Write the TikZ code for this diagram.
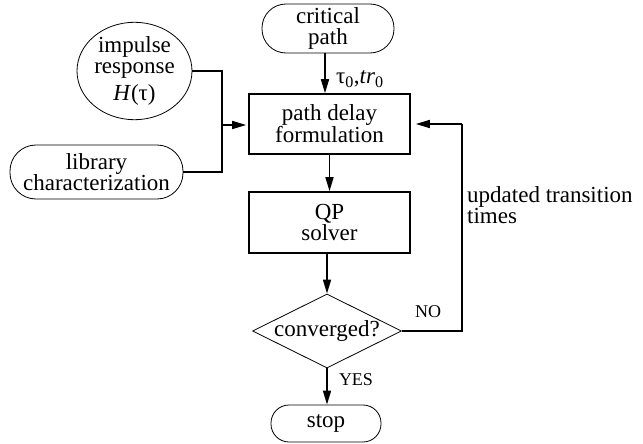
\documentclass[tikz,border=0pt]{standalone}
\usepackage{fontspec}
\setmainfont{Liberation Serif}
\usetikzlibrary{arrows.meta,shapes.geometric}
\begin{document}
\begin{tikzpicture}[x=1pt,y=-1pt,
  every node/.style={font=\fontsize{23}{21}\selectfont, align=center, inner sep=0pt},
  flow/.style={line width=1.6pt, -{Triangle[length=14pt,width=8pt]}},
  wire/.style={line width=1.6pt},
  procbox/.style={draw, line width=1.6pt, minimum width=161pt, minimum height=60pt},
  terminal/.style={draw, line width=0.8pt, rounded corners=#1},
  small/.style={font=\fontsize{18}{18}\selectfont}]
\useasboundingbox (0,0) rectangle (643,444);

% sources
\node[terminal=24pt, minimum width=132pt, minimum height=49pt] (crit) at (328,28.5) {critical\\path};
\node[draw, ellipse, line width=0.8pt, minimum width=115pt, minimum height=88pt] (imp) at (134.5,71)
  {impulse\\response\\[6pt]\textit{H}(τ)};
\node[terminal=26pt, minimum width=173pt, minimum height=54pt] (lib) at (96.5,172) {library\\characterization};

% main chain
\node[procbox] (pdf) at (329.5,124) {path delay\\formulation};
\node[procbox, minimum height=61pt] (qp) at (329.5,222.5) {QP\\solver};
\node[draw, diamond, aspect=2, line width=0.8pt, minimum width=149pt, minimum height=74pt] (conv) at (327,331) {converged?};
\node[terminal=18pt, minimum width=110pt, minimum height=37pt] (stop) at (326,423.5) {stop};

% junction points
\coordinate (join) at (222,125);
\coordinate (fb) at (462,124);

% connectors
\draw[wire] (imp.east) -| (join);
\draw[wire] (lib.east) -| (join);
\draw[flow, shorten >=2pt] (join) -- (join -| pdf.west);
\draw[flow] ([xshift=-3pt]crit.south) -- ([xshift=-3pt]crit.south |- pdf.north);
\draw[flow] (pdf.south) -- (qp.north);
\draw[flow] (qp.south -| conv.north) -- (conv.north);
\draw[flow] (conv.south) -- (conv.south |- stop.north);
\draw[wire] (conv.east) -| (fb);
\draw[flow, shorten >=5pt] (fb) -- (pdf.east);

% labels
\node[anchor=base west] (tlab) at (336,84) {τ\textsubscript{0},\textit{tr}\textsubscript{0}};
\node[small] (nolab) at (428,312) {NO};
\node[small] (yeslab) at (356,380) {YES};
\node[anchor=base west, align=left] (uplab) at (467,223) {updated transition\\times};
\end{tikzpicture}
\end{document}
